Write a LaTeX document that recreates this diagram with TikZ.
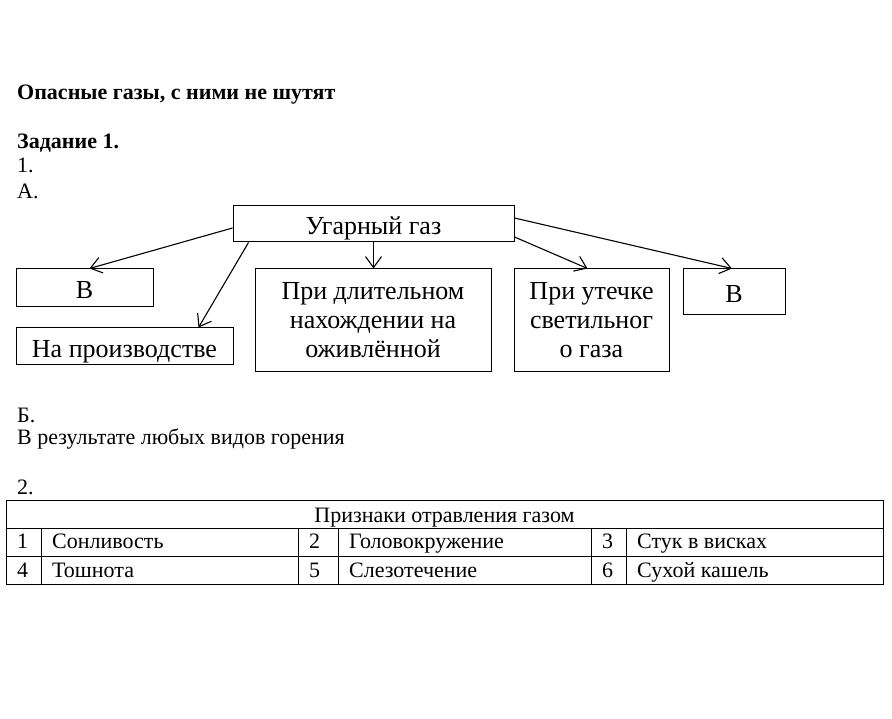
\documentclass[tikz,border=0pt]{standalone}
\usepackage{fontspec}
\setmainfont{Liberation Serif}
\usetikzlibrary{arrows.meta}
\newcommand\bodyfont{\fontsize{22}{26}\selectfont}
\newcommand\boxfont{\fontsize{26}{29}\selectfont}
\begin{document}
\begin{tikzpicture}[x=1pt,y=-1pt,
  txt/.style={anchor=base west,inner sep=0pt,font=\bodyfont},
  box/.style={draw,line width=1pt,inner sep=0pt,align=center,font=\boxfont},
  oneline/.style={box,text height=24pt,text depth=2pt},
  arr/.style={-{Straight Barb[length=11pt,width=16pt]},line width=1.1pt},
  grid/.style={line width=1pt}]
\useasboundingbox (0,0) rectangle (892,719);
% headings
\node[txt,font=\bodyfont\bfseries] (title) at (17,100) {Опасные газы, с ними не шутят};
\node[txt,font=\bodyfont\bfseries] (task) at (17,149) {Задание 1.};
\node[txt] (n1) at (17,173) {1.};
\node[txt] (nA) at (17,199) {А.};
% scheme
\node[oneline,minimum width=281pt,minimum height=36pt] (gas) at (373.5,224) {Угарный газ};
\node[oneline,minimum width=137pt,minimum height=38pt] (b1) at (84.5,288) {В};
\node[oneline,minimum width=217pt,minimum height=37pt] (prod) at (124.5,346.5) {На производстве};
\node[box,minimum width=236pt,minimum height=103pt] (long) at (373,320.5) {При длительном\\нахождении на\\оживлённой};
\node[box,minimum width=155pt,minimum height=103pt] (leak) at (591.5,320.5) {При утечке\\светильног\\о газа};
\node[oneline,minimum width=102pt,minimum height=46pt] (b2) at (734,292) {В};
\draw[arr] ([yshift=-4pt]gas.west) -- ([xshift=5pt]b1.north);
\draw[arr] ([xshift=16pt]gas.south west) -- ([xshift=-35pt]prod.north east);
\draw[arr] (gas.south) -- (gas.south |- long.north);
\draw[arr] ([yshift=-13pt]gas.east) -- ([xshift=-4pt]leak.north);
\draw[arr] ([yshift=6pt]gas.east) -- ([xshift=-2pt]b2.north);
% answer B
\node[txt] (nB) at (17,422) {Б.};
\node[txt] (ansB) at (17,444) {В результате любых видов горения};
% table
\node[txt] (n2) at (17,494) {2.};
\draw[grid] (6,500) rectangle (883,584);
\draw[grid] (6,528) -- (883,528) (6,556) -- (883,556);
\foreach \x in {41,298,338,591,626}
  \draw[grid] (\x,528) -- (\x,584);
\node[anchor=base,inner sep=0pt,font=\bodyfont] (head) at (444.5,522) {Признаки отравления газом};
\foreach \n/\t/\xa/\xb/\y in {1/Сонливость/17/52/548, 2/Головокружение/309/349/548,
    3/Стук в висках/602/637/548, 4/Тошнота/17/52/577, 5/Слезотечение/309/349/577,
    6/Сухой кашель/602/637/577}{
  \node[txt] (num\n) at (\xa,\y) {\n};
  \node[txt] (item\n) at (\xb,\y) {\t};
}
\end{tikzpicture}
\end{document}
